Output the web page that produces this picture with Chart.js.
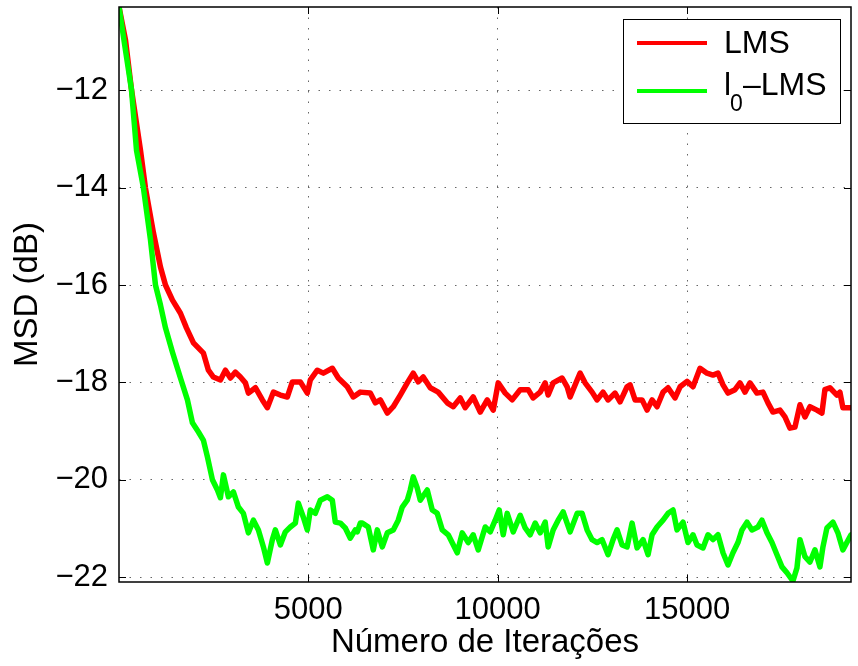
<!DOCTYPE html>
<html>
<head>
<meta charset="utf-8">
<script src="https://cdn.jsdelivr.net/npm/chart.js@4.4.0/dist/chart.umd.min.js"></script>
<style>
html,body{margin:0;padding:0;background:#fff;}
#c{display:block;}
</style>
</head>
<body>
<canvas id="c" width="858" height="666"></canvas>
<script>
const seriesNames = ['LMS', 'l0–LMS'];
const xTitle = 'Número de Iterações';
const yTitle = 'MSD (dB)';
const xTicks = [5000, 10000, 15000];
const yTicks = [-22, -20, -18, -16, -14, -12];
const xRange = [0, 19330];
const yRange = [-22.1, -10.29];

const iterLMS = [1,172,330,567,699,910,1095,1227,1412,1623,1781,1966,2230,2361,2493,2678,2810,2942,3074,3206,3338,3417,3602,3786,3918,4077,4261,4446,4578,4789,4973,5053,5237,5396,5633,5791,6029,6187,6372,6636,6768,6900,7085,7243,7428,7612,7770,7902,8034,8219,8430,8668,8826,9011,9143,9354,9539,9724,9882,10014,10199,10383,10594,10805,10937,11122,11254,11333,11465,11702,11834,11913,12098,12176,12308,12493,12625,12783,12915,13100,13232,13417,13496,13628,13813,13945,14077,14208,14367,14499,14684,14816,15000,15158,15343,15527,15686,15818,15950,16082,16266,16398,16530,16662,16847,17005,17137,17269,17454,17586,17718,17850,17982,18114,18246,18430,18562,18641,18773,18958,19037,19116,19330];
const msdLMS = [-10.29,-10.97,-11.99,-13.23,-14.01,-14.93,-15.63,-16.00,-16.31,-16.58,-16.88,-17.19,-17.40,-17.75,-17.89,-17.95,-17.75,-17.91,-17.79,-17.89,-18.01,-18.22,-18.11,-18.36,-18.52,-18.20,-18.26,-18.30,-17.99,-17.99,-18.22,-17.95,-17.75,-17.81,-17.71,-17.91,-18.09,-18.30,-18.20,-18.22,-18.42,-18.36,-18.63,-18.50,-18.26,-18.01,-17.81,-17.99,-17.89,-18.11,-18.20,-18.42,-18.50,-18.32,-18.52,-18.30,-18.61,-18.36,-18.57,-18.01,-18.22,-18.36,-18.15,-18.15,-18.32,-18.20,-18.01,-18.26,-18.01,-17.91,-18.09,-18.30,-17.95,-17.81,-18.01,-18.20,-18.36,-18.20,-18.36,-18.22,-18.40,-18.09,-18.05,-18.36,-18.36,-18.57,-18.36,-18.50,-18.20,-18.11,-18.32,-18.09,-17.98,-18.09,-17.71,-17.81,-17.85,-17.81,-18.05,-18.22,-18.15,-18.01,-18.20,-18.01,-18.22,-18.20,-18.42,-18.61,-18.57,-18.71,-18.94,-18.92,-18.46,-18.71,-18.50,-18.57,-18.63,-18.15,-18.11,-18.26,-18.20,-18.52,-18.52];

const iterL0 = [1,172,330,462,646,831,963,1095,1227,1412,1623,1807,1939,2098,2230,2335,2467,2599,2678,2757,2889,3021,3153,3285,3417,3549,3681,3813,3918,4050,4129,4261,4393,4525,4657,4736,4868,4973,5053,5184,5316,5501,5633,5712,5844,5976,6108,6240,6293,6372,6425,6583,6715,6821,6953,7085,7243,7375,7480,7612,7691,7770,7876,7955,8140,8272,8404,8536,8694,8932,9064,9222,9354,9486,9671,9803,9935,10040,10146,10251,10410,10594,10726,10858,10990,11122,11254,11333,11465,11597,11729,11913,12098,12229,12361,12493,12625,12757,12915,13047,13153,13285,13417,13549,13681,13839,13971,14077,14208,14367,14499,14631,14736,14895,15026,15158,15264,15422,15554,15686,15818,15950,16082,16213,16345,16451,16583,16715,16873,16979,17111,17243,17375,17507,17639,17797,17903,17982,18114,18246,18378,18510,18589,18694,18853,18984,19116,19330];
const msdL0 = [-10.29,-11.18,-11.99,-13.23,-14.01,-15.07,-16.00,-16.41,-16.88,-17.38,-17.91,-18.36,-18.83,-19.02,-19.19,-19.53,-20.00,-20.21,-20.37,-19.90,-20.35,-20.25,-20.56,-20.69,-21.09,-20.83,-21.03,-21.38,-21.71,-21.23,-21.03,-21.34,-21.07,-20.97,-20.89,-20.48,-20.77,-21.03,-20.62,-20.69,-20.42,-20.35,-20.42,-20.87,-20.89,-20.99,-21.20,-21.03,-21.07,-20.89,-20.89,-20.97,-21.44,-21.03,-21.38,-21.09,-21.03,-20.83,-20.56,-20.42,-20.21,-19.94,-20.17,-20.42,-20.21,-20.62,-20.69,-21.03,-21.13,-21.50,-21.09,-21.29,-21.13,-21.44,-20.97,-21.07,-20.83,-20.62,-21.13,-20.69,-21.07,-20.73,-20.99,-21.13,-20.89,-21.09,-20.87,-21.38,-21.03,-20.83,-20.66,-21.07,-20.69,-20.69,-21.03,-21.23,-21.29,-21.23,-21.54,-21.23,-21.03,-21.34,-21.38,-20.89,-21.40,-21.23,-21.54,-21.13,-20.97,-20.83,-20.69,-20.62,-21.03,-20.87,-21.29,-21.13,-21.34,-21.40,-21.13,-21.23,-21.13,-21.50,-21.75,-21.50,-21.29,-21.03,-20.87,-21.03,-20.97,-20.83,-21.09,-21.29,-21.54,-21.79,-21.91,-22.08,-21.81,-21.23,-21.58,-21.69,-21.44,-21.79,-21.38,-20.99,-20.87,-21.09,-21.44,-21.13];

const colors = ['#ff0000', '#00ff00'];
const FONT = "'Liberation Sans', Arial, Helvetica, sans-serif";

function toPoints(xs, ys) { return xs.map((x, i) => ({x: x, y: ys[i]})); }

const framePlugin = {
  id: 'frame',
  afterDatasetsDraw(chart) {
    const ctx = chart.ctx;
    const a = chart.chartArea;
    const xs = chart.scales.x, ys = chart.scales.y;
    ctx.save();
    ctx.strokeStyle = '#000';
    ctx.lineWidth = 1.5;
    ctx.strokeRect(a.left, a.top, a.right - a.left, a.bottom - a.top);
    ctx.lineWidth = 1;
    const tl = 7;
    ctx.beginPath();
    yTicks.forEach(v => {
      const y = Math.round(ys.getPixelForValue(v)) + 0.5;
      ctx.moveTo(a.left, y); ctx.lineTo(a.left + tl, y);
      ctx.moveTo(a.right, y); ctx.lineTo(a.right - tl, y);
    });
    xTicks.forEach(v => {
      const x = Math.round(xs.getPixelForValue(v)) + 0.5;
      ctx.moveTo(x, a.bottom); ctx.lineTo(x, a.bottom - tl);
      ctx.moveTo(x, a.top); ctx.lineTo(x, a.top + tl);
    });
    ctx.stroke();

    // legend box
    const bx = 623, by = 19, bw = 217, bh = 104;
    ctx.fillStyle = '#fff';
    ctx.fillRect(bx, by, bw, bh);
    ctx.strokeStyle = '#000';
    ctx.lineWidth = 1;
    ctx.strokeRect(bx + 0.5, by + 0.5, bw, bh);
    const rows = [43, 91];
    ctx.lineWidth = 4;
    rows.forEach((ry, i) => {
      ctx.strokeStyle = colors[i];
      ctx.beginPath();
      ctx.moveTo(637, ry); ctx.lineTo(707, ry);
      ctx.stroke();
    });
    ctx.fillStyle = '#000';
    ctx.textBaseline = 'middle';
    ctx.textAlign = 'left';
    ctx.font = '32px ' + FONT;
    ctx.fillText(seriesNames[0], 724, rows[0] + 1);
    const name = seriesNames[1];
    const first = name.charAt(0), sub = name.charAt(1), rest = name.slice(2);
    let x = 724;
    ctx.fillText(first, x, rows[1] - 5);
    x += ctx.measureText(first).width;
    ctx.font = '23px ' + FONT;
    ctx.fillText(sub, x - 1, rows[1] + 14);
    x += ctx.measureText(sub).width - 1;
    ctx.font = '32px ' + FONT;
    ctx.fillText(rest, x, rows[1] - 5);
    ctx.restore();
  }
};

new Chart(document.getElementById('c'), {
  type: 'line',
  data: {
    datasets: [
      { label: seriesNames[0], data: toPoints(iterLMS, msdLMS), borderColor: colors[0], backgroundColor: colors[0], borderWidth: 5.5, pointRadius: 0, tension: 0, fill: false, order: 1, clip: 0, borderJoinStyle: 'round', borderCapStyle: 'round' },
      { label: seriesNames[1], data: toPoints(iterL0, msdL0), borderColor: colors[1], backgroundColor: colors[1], borderWidth: 5.5, pointRadius: 0, tension: 0, fill: false, order: 0, clip: 0, borderJoinStyle: 'round', borderCapStyle: 'round' }
    ]
  },
  options: {
    responsive: false,
    animation: false,
    devicePixelRatio: 1,
    layout: { padding: { left: 0, right: 7, top: 7, bottom: 0 } },
    plugins: { legend: { display: false }, tooltip: { enabled: false } },
    scales: {
      x: {
        type: 'linear',
        min: xRange[0], max: xRange[1],
        afterBuildTicks: s => { s.ticks = xTicks.map(v => ({value: v})); },
        afterFit: s => { s.height = 84; s.paddingLeft = 0; s.paddingRight = 0; },
        grid: { color: 'rgba(0,0,0,0.6)', lineWidth: 1, drawTicks: false },
        border: { display: false, dash: [1.5, 9] },
        ticks: { padding: 10, color: '#000', font: { family: FONT, size: 31 }, maxRotation: 0, callback: v => String(v) },
        title: { display: true, text: xTitle, color: '#000', padding: 0, font: { family: FONT, size: 33, lineHeight: 46/33 } }
      },
      y: {
        type: 'linear',
        min: yRange[0], max: yRange[1],
        afterBuildTicks: s => { s.ticks = yTicks.map(v => ({value: v})); },
        afterFit: s => { s.width = 119; s.paddingTop = 0; s.paddingBottom = 0; },
        grid: { color: 'rgba(0,0,0,0.6)', lineWidth: 1, drawTicks: false },
        border: { display: false, dash: [1.5, 9] },
        ticks: { padding: 11, color: '#000', font: { family: FONT, size: 31 }, callback: v => String(v).replace('-', '\u2212') },
        title: { display: true, text: yTitle, color: '#000', padding: 0, font: { family: FONT, size: 33, lineHeight: 56/33 } }
      }
    }
  },
  plugins: [framePlugin]
});
</script>
</body>
</html>
